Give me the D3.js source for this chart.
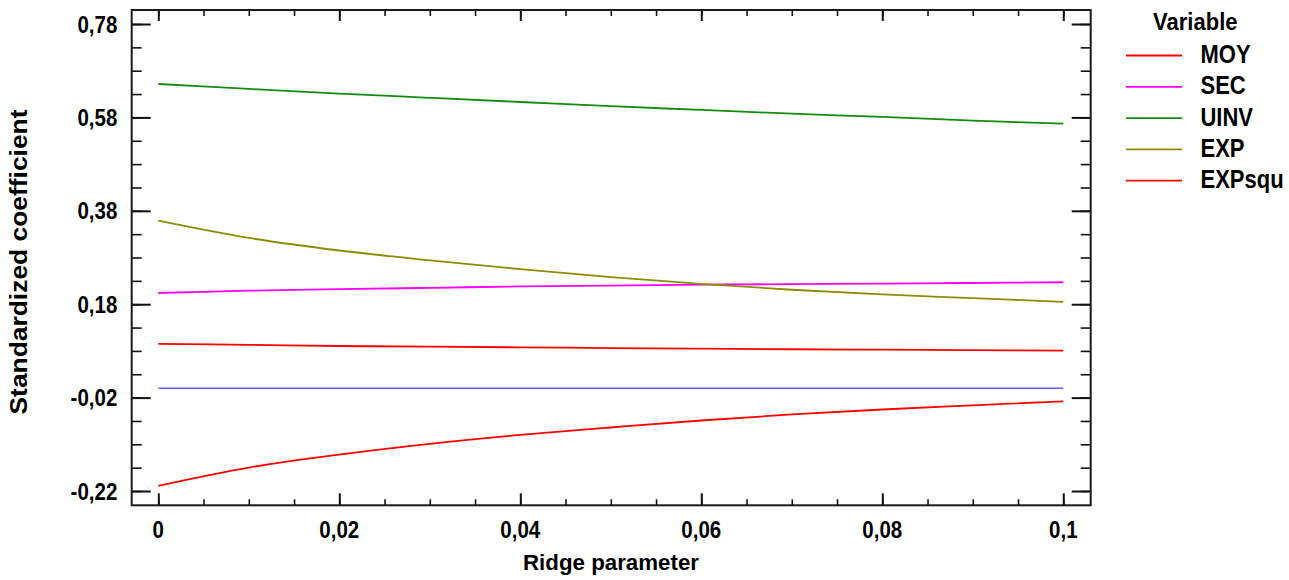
<!DOCTYPE html>
<html><head><meta charset="utf-8">
<script src="https://cdn.jsdelivr.net/npm/d3@7"></script>
<style>body{margin:0;background:#fff}svg{display:block}</style>
</head><body><svg id="c" width="1289" height="580"></svg>
<script>
// ---- data ----
const ridge  = [0, 0.01, 0.02, 0.03, 0.04, 0.05, 0.06, 0.07, 0.08, 0.09, 0.1];
const MOY    = [0.095, 0.093, 0.0905, 0.089, 0.0877, 0.086, 0.0847, 0.0836, 0.0826, 0.0815, 0.0804];
const SEC    = [0.204, 0.209, 0.2125, 0.215, 0.218, 0.220, 0.222, 0.223, 0.224, 0.2254, 0.227];
const UINV   = [0.6515, 0.641, 0.631, 0.622, 0.613, 0.604, 0.596, 0.588, 0.581, 0.573, 0.5665];
const EXP    = [0.359, 0.322, 0.295, 0.274, 0.255, 0.238, 0.2235, 0.211, 0.201, 0.193, 0.185];
const EXPsqu = [-0.209, -0.170, -0.142, -0.119, -0.100, -0.084, -0.069, -0.056, -0.0455, -0.0365, -0.028];
const seriesNames  = ["MOY", "SEC", "UINV", "EXP", "EXPsqu"];
const seriesValues = [MOY, SEC, UINV, EXP, EXPsqu];
const seriesColors = ["#ff0000", "#ff00ff", "#138a13", "#8c8c00", "#ff0000"];
const yTicks      = [-0.22, -0.02, 0.18, 0.38, 0.58, 0.78];
const yTickLabels = ["-0,22", "-0,02", "0,18", "0,38", "0,58", "0,78"];
const xTicks      = [0, 0.02, 0.04, 0.06, 0.08, 0.1];
const xTickLabels = ["0", "0,02", "0,04", "0,06", "0,08", "0,1"];
const yMinor = d3.range(21).map(i => -0.22 + i * 0.05);
const xMinor = d3.range(21).map(i => i * 0.005);

// ---- layout ----
const FONT = "'Liberation Sans', Arial, Helvetica, sans-serif";
const svg = d3.select("#c");
svg.append("rect").attr("width", 1289).attr("height", 580).attr("fill", "#fff");

const x = d3.scaleLinear().domain([-0.00294, 0.10303]).range([131.7, 1090.7]);
const y = d3.scaleLinear().domain([-0.2506, 0.81]).range([505.3, 10]);
const [X0, X1] = x.range();
const [Y0, Y1] = y.range();

function ticks(axis, tx, ty, vals, size, w) {
  const g = svg.append("g").attr("transform", `translate(${tx},${ty})`)
    .call(axis.tickValues(vals).tickSize(size).tickFormat(""));
  g.select(".domain").remove();
  g.selectAll(".tick line").attr("stroke", "#111").attr("stroke-width", w);
}
// left (ticks inward)
ticks(d3.axisRight(y), X0, 0, yMinor, 10, 1.6);
ticks(d3.axisRight(y), X0, 0, yTicks, 19, 2);
// right
ticks(d3.axisLeft(y), X1, 0, yMinor, 10, 1.6);
ticks(d3.axisLeft(y), X1, 0, yTicks, 19, 2);
// bottom
ticks(d3.axisTop(x), 0, Y0, xMinor, 6, 1.6);
ticks(d3.axisTop(x), 0, Y0, xTicks, 12, 2);
// top
ticks(d3.axisBottom(x), 0, Y1, xMinor, 6, 1.6);
ticks(d3.axisBottom(x), 0, Y1, xTicks, 11, 2);

// frame
svg.append("rect").attr("x", X0).attr("y", Y1).attr("width", X1 - X0).attr("height", Y0 - Y1)
  .attr("fill", "none").attr("stroke", "#1a1a1a").attr("stroke-width", 2);

// zero line
svg.append("line").attr("x1", x(0)).attr("x2", x(0.1)).attr("y1", y(0)).attr("y2", y(0))
  .attr("stroke", "#5f5fff").attr("stroke-width", 1.3);

// series
const line = d3.line().x((d, i) => x(ridge[i])).y(d => y(d)).curve(d3.curveCatmullRom.alpha(0.5));
seriesValues.forEach((vals, k) => {
  svg.append("path").attr("d", line(vals)).attr("fill", "none")
    .attr("stroke", seriesColors[k]).attr("stroke-width", 1.8);
});

// text helper
function txt(px, py, str, size, anchor, sy) {
  return svg.append("text")
    .attr("transform", `translate(${px},${py}) scale(1,${sy})`)
    .attr("text-anchor", anchor).attr("font-family", FONT).attr("font-weight", "bold")
    .attr("font-size", size).attr("fill", "#000").text(str);
}

// y tick labels
yTicks.forEach((t, i) => txt(117.3, y(t) + 8.5, yTickLabels[i], 20.5, "end", 1.15));
// x tick labels
xTicks.forEach((t, i) => txt(x(t), 537.5, xTickLabels[i], 20.5, "middle", 1.15));

// axis titles
txt(611, 570, "Ridge parameter", 22.3, "middle", 1);
svg.append("text")
  .attr("transform", "translate(26.7,262) rotate(-90)")
  .attr("text-anchor", "middle").attr("font-family", FONT).attr("font-weight", "bold")
  .attr("font-size", 23).attr("textLength", 305).attr("lengthAdjust", "spacingAndGlyphs")
  .text("Standardized coefficient");

// legend
txt(1195.3, 30, "Variable", 22, "middle", 1.05);
seriesNames.forEach((n, i) => {
  const ly = 55.5 + i * 31.3;
  svg.append("line").attr("x1", 1126).attr("x2", 1182).attr("y1", ly).attr("y2", ly)
    .attr("stroke", seriesColors[i]).attr("stroke-width", 1.8);
  txt(1200.5, ly + 7.5, n, 22, "start", 1.15);
});
</script>
</body></html>
